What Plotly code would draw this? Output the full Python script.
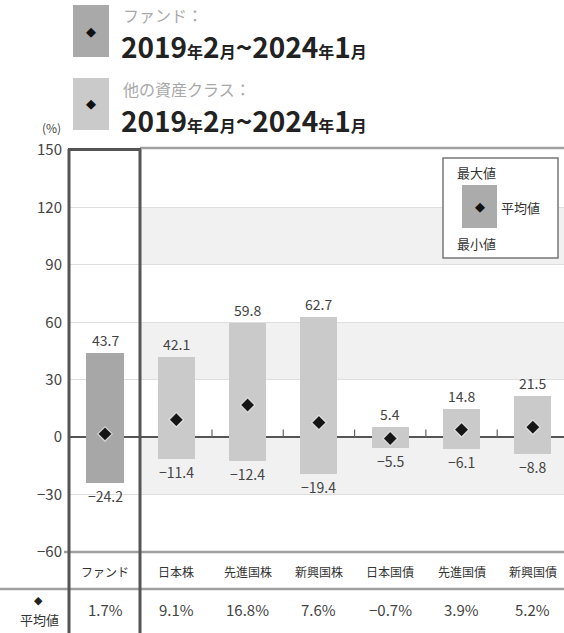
import plotly.graph_objects as go

categories = ["ファンド", "日本株", "先進国株", "新興国株", "日本国債", "先進国債", "新興国債"]
max_vals = [43.7, 42.1, 59.8, 62.7, 5.4, 14.8, 21.5]
min_vals = [-24.2, -11.4, -12.4, -19.4, -5.5, -6.1, -8.8]
mean_vals = [1.7, 9.1, 16.8, 7.6, -0.7, 3.9, 5.2]
y_ticks = [150, 120, 90, 60, 30, 0, -30, -60]

W, H = 564, 633
L, R, T, B = 69, 564, 150, 552  # plot area in pixels
FONT = "Noto Sans CJK JP"


def px(x):
    return (x - L) / (R - L)


def py(y):
    return (B - y) / (B - T)


def fmt(v):
    s = f"{abs(v):.1f}"
    return ("−" + s) if v < 0 else s


def note(x, y, text, font, xanchor="center", **kw):
    d = dict(x=px(x), y=py(y), xref="paper", yref="paper", text=text, showarrow=False,
             xanchor=xanchor, yanchor="middle", font=font)
    d.update(kw)
    return d


xs = list(range(len(categories)))
bar_colors = ["#a7a7a7"] + ["#cacaca"] * (len(categories) - 1)

fig = go.Figure()
fig.add_trace(go.Bar(
    x=xs,
    y=[mx - mn for mx, mn in zip(max_vals, min_vals)],
    base=min_vals,
    width=0.52,
    marker=dict(color=bar_colors, line=dict(width=0)),
    hoverinfo="skip",
))
fig.add_trace(go.Scatter(
    x=xs, y=mean_vals, mode="markers",
    marker=dict(symbol="diamond", size=11, color="#151515",
                line=dict(color="rgba(255,255,255,0.7)", width=1.2)),
    hoverinfo="skip",
))

shapes = []
for y0, y1 in [(90, 120), (30, 60), (-30, 0)]:
    shapes.append(dict(type="rect", xref="x", yref="y", x0=0.5, x1=6.5, y0=y0, y1=y1,
                       fillcolor="#f1f1f1", line=dict(width=0), layer="below"))
shapes.append(dict(type="line", xref="paper", yref="paper", x0=px(140), x1=1, y0=py(148), y1=py(148),
                   line=dict(color="#a0a0a0", width=2.5)))
shapes.append(dict(type="line", xref="paper", yref="paper", x0=px(64), x1=1, y0=0, y1=0,
                   line=dict(color="#a0a0a0", width=2.5)))
shapes.append(dict(type="line", xref="paper", yref="paper", x0=px(0), x1=1, y0=py(589), y1=py(589),
                   line=dict(color="#a0a0a0", width=2.5)))
for b in [1.5, 2.5, 3.5, 4.5, 5.5]:
    shapes.append(dict(type="line", xref="x", yref="y", x0=b, x1=b, y0=0, y1=4,
                       line=dict(color="#666666", width=1.2)))
shapes.append(dict(type="line", xref="paper", yref="paper", x0=px(69), x1=px(69), y0=py(149), y1=py(640),
                   line=dict(color="#555555", width=3)))
shapes.append(dict(type="line", xref="paper", yref="paper", x0=px(140), x1=px(140), y0=py(149), y1=py(640),
                   line=dict(color="#555555", width=3)))
shapes.append(dict(type="line", xref="paper", yref="paper", x0=px(68), x1=px(141), y0=py(149.5), y1=py(149.5),
                   line=dict(color="#555555", width=3)))
shapes.append(dict(type="rect", xref="paper", yref="paper", x0=px(443), x1=px(558), y0=py(258), y1=py(158),
                   fillcolor="white", line=dict(color="#777777", width=1.5)))
shapes.append(dict(type="rect", xref="paper", yref="paper", x0=px(462), x1=px(497), y0=py(228), y1=py(185),
                   fillcolor="#ababab", line=dict(width=0)))
shapes.append(dict(type="rect", xref="paper", yref="paper", x0=px(73), x1=px(109), y0=py(57), y1=py(5),
                   fillcolor="#a9a9a9", line=dict(width=0)))
shapes.append(dict(type="rect", xref="paper", yref="paper", x0=px(73), x1=px(109), y0=py(130), y1=py(78),
                   fillcolor="#cacaca", line=dict(width=0)))

ann = []
lab_font = dict(family=FONT, size=14, color="#444444")
for i, (mx, mn) in enumerate(zip(max_vals, min_vals)):
    ann.append(dict(x=i, y=mx, xref="x", yref="y", text=fmt(mx), showarrow=False,
                    xanchor="center", yanchor="bottom", yshift=1, font=lab_font))
    ann.append(dict(x=i, y=mn, xref="x", yref="y", text=fmt(mn), showarrow=False,
                    xanchor="center", yanchor="top", yshift=-1, font=lab_font))
    ann.append(dict(x=i, y=py(571), xref="x", yref="paper", text=categories[i], showarrow=False,
                    xanchor="center", yanchor="middle",
                    font=dict(family=FONT, size=12, color="#333333")))
    ann.append(dict(x=i, y=py(609), xref="x", yref="paper", text=fmt(mean_vals[i]) + "%", showarrow=False,
                    xanchor="center", yanchor="middle",
                    font=dict(family=FONT, size=15, color="#444444")))

dia = dict(family="DejaVu Sans", size=13, color="#111111")
ann.append(note(38, 600, "◆", dict(family="DejaVu Sans", size=11, color="#222222")))
ann.append(note(39, 619, "平均値", dict(family=FONT, size=13, color="#333333")))
ann.append(note(63, 128, "(%)", dict(family=FONT, size=12, color="#444444"), xanchor="right"))
small = dict(family=FONT, size=13, color="#333333")
ann.append(note(455, 172, "最大値", small, xanchor="left"))
ann.append(note(455, 243, "最小値", small, xanchor="left"))
ann.append(note(499, 207, "平均値", small, xanchor="left"))
ann.append(note(479.5, 206.5, "◆", dia))
sm = "<span style='font-size:16px'><b>{}</b></span>"
date_txt = ("<b>2019</b>" + sm.format("年") + "<b>2</b>" + sm.format("月") + "<b>~2024</b>"
            + sm.format("年") + "<b>1</b>" + sm.format("月"))
for (ytitle, ydate, ysq, title) in [(15, 46, 31, "ファンド："), (89, 120, 104, "他の資産クラス：")]:
    ann.append(note(121, ytitle, title, dict(family=FONT, size=16, color="#a8a8a8"), xanchor="left"))
    ann.append(note(119, ydate, date_txt, dict(family=FONT, size=28, color="#222222"), xanchor="left"))
    ann.append(note(91, ysq, "◆", dia))

fig.update_layout(
    width=W, height=H,
    margin=dict(l=L, r=W - R, t=T, b=H - B, pad=0),
    paper_bgcolor="white", plot_bgcolor="white",
    showlegend=False,
    bargap=0,
    hovermode=False,
    shapes=shapes,
    annotations=ann,
    xaxis=dict(range=[-0.505, 6.437], showgrid=False, zeroline=False, showticklabels=False,
               ticks="", fixedrange=True),
    yaxis=dict(range=[-60, 150], tickvals=y_ticks,
               ticktext=[("−" + str(-v)) if v < 0 else str(v) for v in y_ticks],
               showgrid=True, gridcolor="#dedede", gridwidth=1,
               zeroline=True, zerolinecolor="#555555", zerolinewidth=1.5,
               tickfont=dict(family=FONT, size=15, color="#444444"), ticks="", ticklabelstandoff=6,
               fixedrange=True),
)

fig.write_html("out.html", config={"displayModeBar": False},
               post_script="document.body.style.margin='0';")
